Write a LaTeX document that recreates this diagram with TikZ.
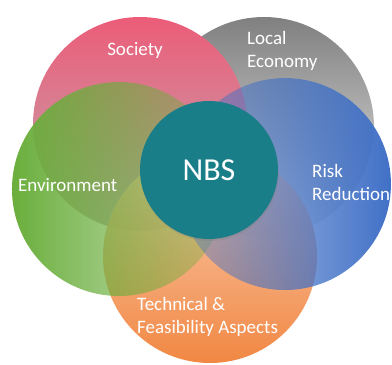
\documentclass[tikz,border=0pt]{standalone}
\usepackage{fontspec}
\setmainfont{Carlito}
\usetikzlibrary{fadings,shadows}

\definecolor{socpink}{RGB}{236,92,120}
\definecolor{socmid}{RGB}{200,140,152}
\definecolor{socpale}{RGB}{190,172,180}
\definecolor{ecogrey}{RGB}{128,128,128}
\definecolor{ecomid}{RGB}{205,205,205}
\definecolor{ecopale}{RGB}{236,236,236}
\definecolor{envgreen}{RGB}{106,174,60}
\definecolor{riskblue}{RGB}{64,112,198}
\definecolor{techpale}{RGB}{250,206,178}
\definecolor{techmid}{RGB}{246,172,124}
\definecolor{techorange}{RGB}{240,122,46}
\definecolor{nbsteal}{RGB}{26,126,137}

% opaque side / see-through side
\tikzfading[name=fade green, left color=transparent!0, middle color=transparent!22, right color=transparent!72]
\tikzfading[name=fade blue, left color=transparent!68, middle color=transparent!15, right color=transparent!0]

\begin{document}
\begin{tikzpicture}[x=1pt, y=-1pt,
    every node/.style={inner sep=0pt, text=white, font=\fontsize{19}{23}\selectfont},
    area/.style={circle, minimum size=214pt},
    tag/.style={align=left, anchor=west}]
  \useasboundingbox (0,0) rectangle (392,365);

  % outer circles, back to front
  \node[area, minimum size=220pt, top color=ecogrey, middle color=ecomid, bottom color=ecopale] (eco) at (264,127) {};
  \node[area, top color=socpink, middle color=socmid, bottom color=socpale] (soc) at (140,124) {};
  \node[area, top color=techpale, middle color=techmid, bottom color=techorange, fill opacity=0.9] (tech) at (210,256) {};
  \node[area, fill=envgreen, path fading=fade green] (env) at (119,189) {};
  \node[area, minimum size=212pt, fill=riskblue, path fading=fade blue] (risk) at (285,184) {};

  % centre
  \node[circle, minimum size=138pt, fill=nbsteal,
        drop shadow={opacity=0.3, shadow xshift=1pt, shadow yshift=-2pt},
        font=\fontsize{32}{36}\selectfont] (nbs) at (209,170) {NBS};

  % labels
  \node (lsoc) at (135,50) {Society};
  \node[tag] (leco) at (247,51) {Local\\Economy};
  \node[tag] (lenv) at (18,185) {Environment};
  \node[tag] (lrisk) at (312,182) {Risk\\Reduction};
  \node[tag] (ltech) at (137,317) {Technical \&\\Feasibility Aspects};
\end{tikzpicture}
\end{document}
